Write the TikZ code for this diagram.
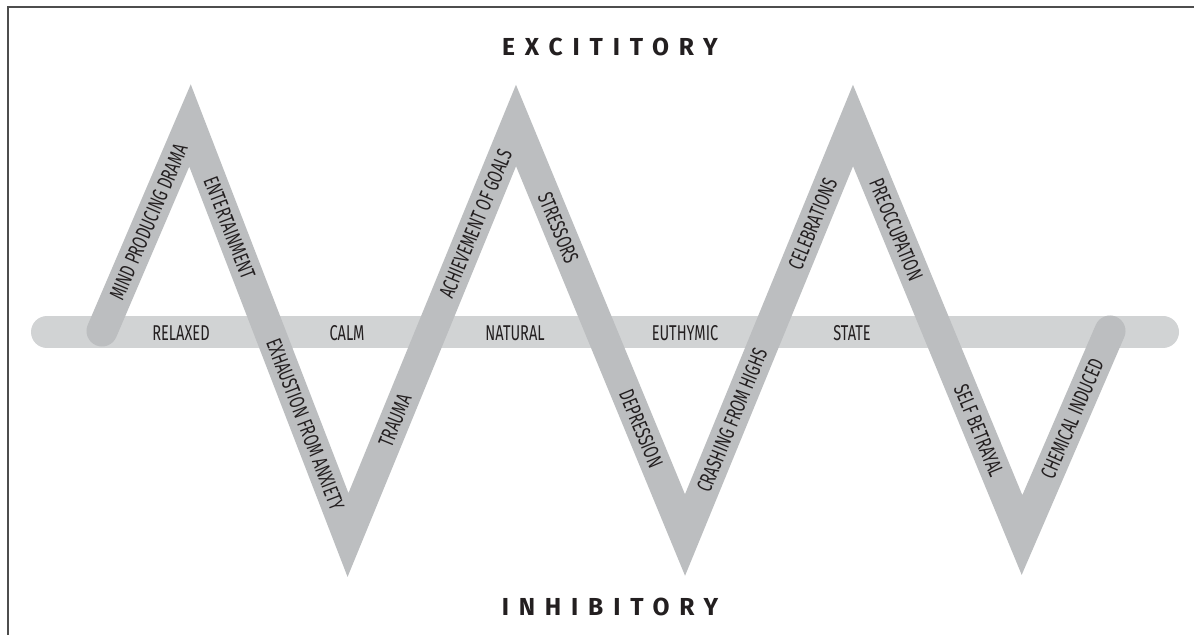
\documentclass[tikz,border=0pt]{standalone}
\usepackage{fontspec}
\setmainfont{Fira Sans}
\newfontfamily\condfont{Fira Sans}[FakeStretch=0.68]
\newfontfamily\headfont{Fira Sans}[LetterSpace=40]
\definecolor{BarGray}{RGB}{209,211,212}
\definecolor{ZigGray}{RGB}{188,190,192}
\definecolor{FrameGray}{RGB}{77,77,77}
\definecolor{InkBlack}{RGB}{35,31,32}

\begin{document}
\begin{tikzpicture}[x=0.2mm, y=-0.2mm, every node/.style={align=center, text=InkBlack}]
\tikzset{
  frame/.style={line width=0.4mm, FrameGray},
  bar/.style={line width=6.4mm, BarGray, line cap=round},
  zigzag/.style={line width=6.2mm, ZigGray, line cap=round, line join=miter},
  level/.style={font=\condfont\fontsize{12.2}{13}\selectfont, inner sep=0pt},
  along/.style={font=\condfont\fontsize{12.2}{13}\selectfont, sloped, inner sep=0pt},
  pole/.style={font=\headfont\bfseries\fontsize{14}{16}\selectfont}
}
  \def\ytop{125.5}
  \def\ybot{535}
  \def\ymid{331}
  \useasboundingbox (0,0) rectangle (1194,635);

  % frame (open at right and bottom)
  \draw[frame] (8,635) -- (8,7.5) -- (1194,7.5);

  % horizontal state bar
  \coordinate (barL) at (47,332);
  \coordinate (barR) at (1163,332);
  \draw[bar] (barL) -- (barR);

  % zigzag turning points
  \coordinate (s)  at (102,\ymid);
  \coordinate (p1) at (190,\ytop);
  \coordinate (v1) at (348,\ybot);
  \coordinate (p2) at (516,\ytop);
  \coordinate (v2) at (685,\ybot);
  \coordinate (p3) at (853,\ytop);
  \coordinate (v3) at (1022,\ybot);
  \coordinate (e)  at (1110,\ymid);

  \draw[zigzag] (s) -- (p1) -- (v1) -- (p2) -- (v2) -- (p3) -- (v3) -- (e);

  % labels along the zigzag
  \path (s) -- node[along, pos=0.53] (drama) {MIND PRODUCING DRAMA} (p1);
  \path (p1) -- node[along, pos=0.25] (entertain) {ENTERTAINMENT}
               node[along, pos=0.73] (exhaust) {EXHAUSTION FROM ANXIETY} (v1);
  \path (v1) -- node[along, pos=0.28] (trauma) {TRAUMA}
               node[along, pos=0.76] (goals) {ACHIEVEMENT OF GOALS} (p2);
  \path (p2) -- node[along, pos=0.25] (stressors) {STRESSORS}
               node[along, pos=0.74] (depress) {DEPRESSION} (v2);
  \path (v2) -- node[along, pos=0.28] (crashing) {CRASHING FROM HIGHS}
               node[along, pos=0.76] (celebr) {CELEBRATIONS} (p3);
  \path (p3) -- node[along, pos=0.255] (preocc) {PREOCCUPATION}
               node[along, pos=0.745] (betray) {SELF BETRAYAL} (v3);
  \path (v3) -- node[along, pos=0.57] (chemical) {CHEMICAL INDUCED} (e);

  % labels on the bar
  \node[level] (relaxed)  at (181,333) {RELAXED};
  \node[level] (calm)     at (347,333) {CALM};
  \node[level] (natural)  at (515,333) {NATURAL};
  \node[level] (euthymic) at (685,333) {EUTHYMIC};
  \node[level] (state)    at (852,333) {STATE};

  % poles
  \node[pole] (excit) at (610,47)  {EXCITITORY};
  \node[pole] (inhib) at (610,607) {INHIBITORY};
\end{tikzpicture}
\end{document}
